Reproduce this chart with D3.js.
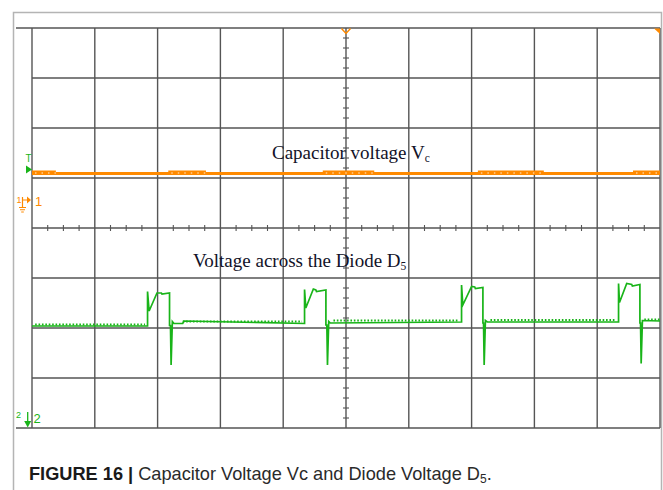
<!DOCTYPE html>
<html>
<head>
<meta charset="utf-8">
<script src="https://cdn.jsdelivr.net/npm/d3@7"></script>
<style>
  html, body { margin: 0; padding: 0; background: #fff; }
  svg { display: block; }
</style>
</head>
<body>
<svg id="chart" width="663" height="490"></svg>
<script>
// Screen grid: 10 horizontal divisions, 8 vertical divisions (values in divisions)
const xDivisions = d3.range(0, 11);
const yDivisions = d3.range(-4, 5);

// Channel 1: capacitor voltage, flat level (div) and intervals showing acquisition noise
const capLevel = 1.09;
const capTime = [0, 10];
const capNoise = [[0, 0.38], [2.17, 2.77], [4.63, 5.45], [7.10, 8.15], [9.57, 10]];

// Channel 2: voltage across diode D5 (time in div, value in div)
const diodeTime = [
  0, 1.84, 1.84, 1.865, 1.99, 2.06, 2.07, 2.19, 2.19, 2.205, 2.215, 2.235, 2.26, 2.40, 2.42,
  4.34, 4.34, 4.36, 4.48, 4.52, 4.53, 4.68, 4.68, 4.695, 4.705, 4.725, 4.75,
  6.84, 6.84, 6.86, 7.00, 7.05, 7.06, 7.18, 7.18, 7.19, 7.20, 7.22, 7.25,
  9.34, 9.34, 9.355, 9.47, 9.55, 9.56, 9.68, 9.68, 9.69, 9.70, 9.72, 10
];
const diodeValue = [
  -1.96, -1.96, -1.27, -1.66, -1.30, -1.30, -1.32, -1.30, -1.95, -1.95, -2.74, -1.87, -1.91, -1.91, -1.86,
  -1.91, -1.23, -1.60, -1.22, -1.24, -1.27, -1.24, -1.94, -1.94, -2.74, -1.87, -1.90,
  -1.88, -1.14, -1.54, -1.17, -1.18, -1.21, -1.19, -1.90, -1.90, -2.74, -1.85, -1.88,
  -1.88, -1.11, -1.49, -1.11, -1.13, -1.16, -1.13, -1.90, -1.90, -2.71, -1.85, -1.86
];
// Ripple on the diode baseline: [start, end, level]
const diodeRipple = [[0.05, 1.80, -1.96], [2.40, 4.30, -1.90], [4.80, 6.80, -1.88], [7.30, 9.30, -1.87], [9.75, 10, -1.86]];

const labels = {
  cap: ["Capacitor voltage V", "c"],
  diode: ["Voltage across the Diode D", "5"]
};

const orange = "#ff8a00";
const green = "#19b419";
const gridColor = "#555555";

const svg = d3.select("#chart");
const x = d3.scaleLinear().domain([0, 10]).range([32, 660]);
const y = d3.scaleLinear().domain([-4, 4]).range([428, 28]);

// page frame
svg.append("path")
  .attr("d", "M13.5,490 V12.5 H661.5 V490")
  .attr("fill", "none").attr("stroke", "#b4b4b4").attr("stroke-width", 1.5);

// grid
const g = svg.append("g");
g.selectAll("line.v").data(xDivisions).join("line")
  .attr("x1", d => x(d)).attr("x2", d => x(d))
  .attr("y1", y(4)).attr("y2", y(-4))
  .attr("stroke", gridColor).attr("stroke-width", 1.4);
g.selectAll("line.h").data(yDivisions).join("line")
  .attr("x1", d => (d === 4 || d === -4) ? 16 : x(0)).attr("x2", x(10))
  .attr("y1", d => y(d)).attr("y2", d => y(d))
  .attr("stroke", gridColor).attr("stroke-width", 1.4);

// minor ticks on center axes
const hTicks = d3.range(0, 10.001, 0.25).filter(d => Math.abs(d - Math.round(d)) > 1e-6);
const vTicks = d3.range(-4, 4.001, 0.2).filter(d => Math.abs(d - Math.round(d)) > 1e-6);
g.selectAll("line.ht").data(hTicks).join("line")
  .attr("x1", d => x(d)).attr("x2", d => x(d))
  .attr("y1", y(0) - 3).attr("y2", y(0) + 3)
  .attr("stroke", gridColor).attr("stroke-width", 1.1);
g.selectAll("line.vt").data(vTicks).join("line")
  .attr("x1", x(5) - 3).attr("x2", x(5) + 3)
  .attr("y1", d => y(d)).attr("y2", d => y(d))
  .attr("stroke", gridColor).attr("stroke-width", 1.1);

// channel 1 trace
const line = d3.line().x(d => x(d[0])).y(d => y(d[1]));
svg.append("path")
  .attr("d", line(capTime.map(t => [t, capLevel])))
  .attr("fill", "none").attr("stroke", orange).attr("stroke-width", 3);
capNoise.forEach(([a, b]) => {
  svg.append("line")
    .attr("x1", x(a)).attr("x2", x(b))
    .attr("y1", y(capLevel) - 1.5).attr("y2", y(capLevel) - 1.5)
    .attr("stroke", orange).attr("stroke-width", 3);
  svg.append("line")
    .attr("x1", x(a) + 3).attr("x2", x(b))
    .attr("y1", y(capLevel) - 0.5).attr("y2", y(capLevel) - 0.5)
    .attr("stroke", "#fff").attr("stroke-width", 1)
    .attr("stroke-dasharray", "1.5,5").attr("opacity", 0.85);
});

// channel 2 trace
svg.append("path")
  .attr("d", line(diodeTime.map((t, i) => [t, diodeValue[i]])))
  .attr("fill", "none").attr("stroke", green).attr("stroke-width", 1.7)
  .attr("stroke-linejoin", "miter");
diodeRipple.forEach(([a, b, v]) => {
  svg.append("line")
    .attr("x1", x(a)).attr("x2", x(b))
    .attr("y1", y(v) - 1.6).attr("y2", y(v) - 1.6)
    .attr("stroke", green).attr("stroke-width", 2)
    .attr("stroke-dasharray", "1.6,1.8");
});

// markers
// trigger level
svg.append("text").attr("x", 25.5).attr("y", 161.5)
  .attr("font-family", "Liberation Sans, Arial, sans-serif").attr("font-size", 10)
  .attr("fill", green).text("T");
svg.append("path").attr("d", "M26,165.5 L32,169.5 L26,173.5 Z").attr("fill", green);

// channel 1 reference
const m1 = svg.append("g").attr("fill", orange).attr("stroke", orange);
m1.append("text").attr("x", 16.5).attr("y", 203).attr("stroke", "none")
  .attr("font-family", "Liberation Sans, Arial, sans-serif").attr("font-size", 9).text("1");
m1.append("path").attr("d", "M22.5,197 V207 M22.5,200 H27").attr("fill", "none").attr("stroke-width", 1.2);
m1.append("path").attr("d", "M19,207.5 H26 M20,209.8 H25 M21.2,212 H23.8").attr("fill", "none").attr("stroke-width", 1.1);
m1.append("path").attr("d", "M27,196.5 L31,200 L27,203.5 Z").attr("stroke", "none");
m1.append("text").attr("x", 35).attr("y", 205.5).attr("stroke", "none")
  .attr("font-family", "Liberation Sans, Arial, sans-serif").attr("font-size", 13).text("1");

// channel 2 reference
const m2 = svg.append("g").attr("fill", green).attr("stroke", green);
m2.append("text").attr("x", 16).attr("y", 418).attr("stroke", "none")
  .attr("font-family", "Liberation Sans, Arial, sans-serif").attr("font-size", 9).text("2");
m2.append("path").attr("d", "M27.7,412 V422").attr("fill", "none").attr("stroke-width", 1.3);
m2.append("path").attr("d", "M24.2,421 L31.2,421 L27.7,427.5 Z").attr("stroke", "none");
m2.append("text").attr("x", 33.5).attr("y", 423).attr("stroke", "none")
  .attr("font-family", "Liberation Sans, Arial, sans-serif").attr("font-size", 13).text("2");

// time reference and top-right markers
svg.append("path").attr("d", `M${x(5) - 4.5},28.5 L${x(5)},33.5 L${x(5) + 4.5},28.5`)
  .attr("fill", "none").attr("stroke", orange).attr("stroke-width", 1.4);
svg.append("path").attr("d", "M654,28.5 L660,28.5 L660,34 Z").attr("fill", orange);

// trace labels
const serif = "Liberation Serif, 'Times New Roman', serif";
function serifLabel(px, py, [main, sub]) {
  const t = svg.append("text").attr("x", px).attr("y", py)
    .attr("font-family", serif).attr("font-size", 19).attr("fill", "#121228");
  t.append("tspan").text(main);
  t.append("tspan").attr("font-size", 11.5).attr("dy", 3).text(sub);
}
serifLabel(272, 158.5, labels.cap);
serifLabel(193, 267, labels.diode);

// caption
const cap = svg.append("text").attr("x", 29).attr("y", 480)
  .attr("font-family", "Liberation Sans, Arial, sans-serif").attr("font-size", 18.2).attr("fill", "#2a2a2a");
cap.append("tspan").attr("font-weight", "bold").attr("fill", "#1a1a1a").text("FIGURE 16 | ");
cap.append("tspan").text("Capacitor Voltage Vc and Diode Voltage D");
cap.append("tspan").attr("font-size", 12).attr("dy", 3).text("5");
cap.append("tspan").attr("dy", -3).text(".");
</script>
</body>
</html>
